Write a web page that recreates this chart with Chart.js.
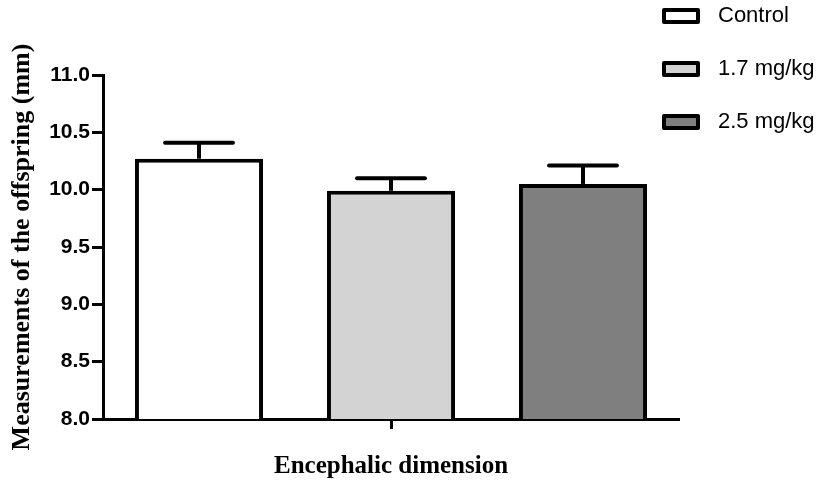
<!DOCTYPE html>
<html>
<head>
<meta charset="utf-8">
<title>Encephalic dimension</title>
<script src="https://cdn.jsdelivr.net/npm/chart.js@4.4.1/dist/chart.umd.min.js"></script>
<style>
  html, body { margin: 0; padding: 0; background: #fff; }
  #wrap { width: 822px; height: 488px; }
</style>
</head>
<body>
<div id="wrap"><canvas id="barChart" width="822" height="488"></canvas></div>
<script>
// groups, means and SEM (mm)
const groups = ['Control', '1.7 mg/kg', '2.5 mg/kg'];
const means = [10.27, 9.99, 10.05];
const sem = [0.14, 0.11, 0.16];
const fills = ['#ffffff', '#d3d3d3', '#7f7f7f'];

const yMin = 8.0;
const yMax = 11.0;
const yStep = 0.5;

const sansFont = '"Liberation Sans", Arial, sans-serif';
const serifFont = '"Liberation Serif", "Times New Roman", serif';

// upward SEM whiskers with a flat cap
const errorBars = {
    id: 'errorBars',
    afterDatasetsDraw(chart) {
        const ctx = chart.ctx;
        const y = chart.scales.y;
        ctx.save();
        ctx.strokeStyle = '#000';
        ctx.lineWidth = 4;
        chart.data.datasets.forEach((ds, i) => {
            const bar = chart.getDatasetMeta(i).data[0];
            const top = y.getPixelForValue(ds.data[0] + ds.sem);
            const half = bar.width * 0.265;
            ctx.lineCap = 'butt';
            ctx.beginPath();
            ctx.moveTo(bar.x, bar.y);
            ctx.lineTo(bar.x, top);
            ctx.stroke();
            ctx.lineCap = 'round';
            ctx.beginPath();
            ctx.moveTo(bar.x - half, top);
            ctx.lineTo(bar.x + half, top);
            ctx.stroke();
        });
        ctx.restore();
    }
};

// legend stacked in the top right corner
const cornerLegend = {
    id: 'cornerLegend',
    afterDraw(chart) {
        const ctx = chart.ctx;
        const rows = [16, 69, 122];
        ctx.save();
        ctx.font = '22px ' + sansFont;
        ctx.textBaseline = 'middle';
        chart.data.datasets.forEach((ds, i) => {
            const cy = rows[i];
            ctx.fillStyle = ds.backgroundColor;
            ctx.strokeStyle = '#000';
            ctx.lineWidth = 4;
            ctx.lineJoin = 'round';
            ctx.beginPath();
            ctx.rect(664, cy - 6, 34, 12);
            ctx.fill();
            ctx.stroke();
            ctx.fillStyle = '#000';
            ctx.fillText(ds.label, 718, cy);
        });
        ctx.restore();
    }
};

const ctx = document.getElementById('barChart');

new Chart(ctx, {
    type: 'bar',
    plugins: [errorBars, cornerLegend],
    data: {
        labels: [''],
        datasets: groups.map((g, i) => ({
            label: g,
            data: [means[i]],
            sem: sem[i],
            backgroundColor: fills[i],
            borderColor: '#000',
            borderWidth: 4,
            borderSkipped: 'start',
            categoryPercentage: 1.0,
            barPercentage: 0.667
        }))
    },
    options: {
        responsive: false,
        animation: false,
        layout: {
            padding: { top: 75, right: 143, bottom: 0, left: 0 }
        },
        plugins: {
            legend: { display: false },
            tooltip: { enabled: false }
        },
        scales: {
            x: {
                afterFit: (scale) => { scale.height = 69; },
                grid: {
                    offset: false,
                    drawOnChartArea: false,
                    drawTicks: true,
                    tickLength: 10,
                    tickWidth: 3,
                    color: '#000'
                },
                border: { color: '#000', width: 3 },
                ticks: { display: true, padding: 0 },
                title: {
                    display: true,
                    text: 'Encephalic dimension',
                    color: '#000',
                    font: { family: serifFont, size: 25, weight: 'bold' },
                    padding: { top: 0, bottom: 6 }
                }
            },
            y: {
                min: yMin,
                max: yMax,
                afterFit: (scale) => { scale.width = 103; },
                grid: {
                    drawOnChartArea: false,
                    drawTicks: true,
                    tickLength: 11,
                    tickWidth: 3,
                    color: '#000'
                },
                border: { color: '#000', width: 3 },
                ticks: {
                    stepSize: yStep,
                    color: '#000',
                    padding: 2,
                    font: { family: sansFont, size: 21, weight: 'bold' },
                    callback: (v) => v.toFixed(1)
                },
                title: {
                    display: true,
                    text: 'Measurements of the offspring (mm)',
                    color: '#000',
                    font: { family: serifFont, size: 26, weight: 'bold' },
                    padding: { top: 7, bottom: 0 }
                }
            }
        }
    }
});
</script>
</body>
</html>
